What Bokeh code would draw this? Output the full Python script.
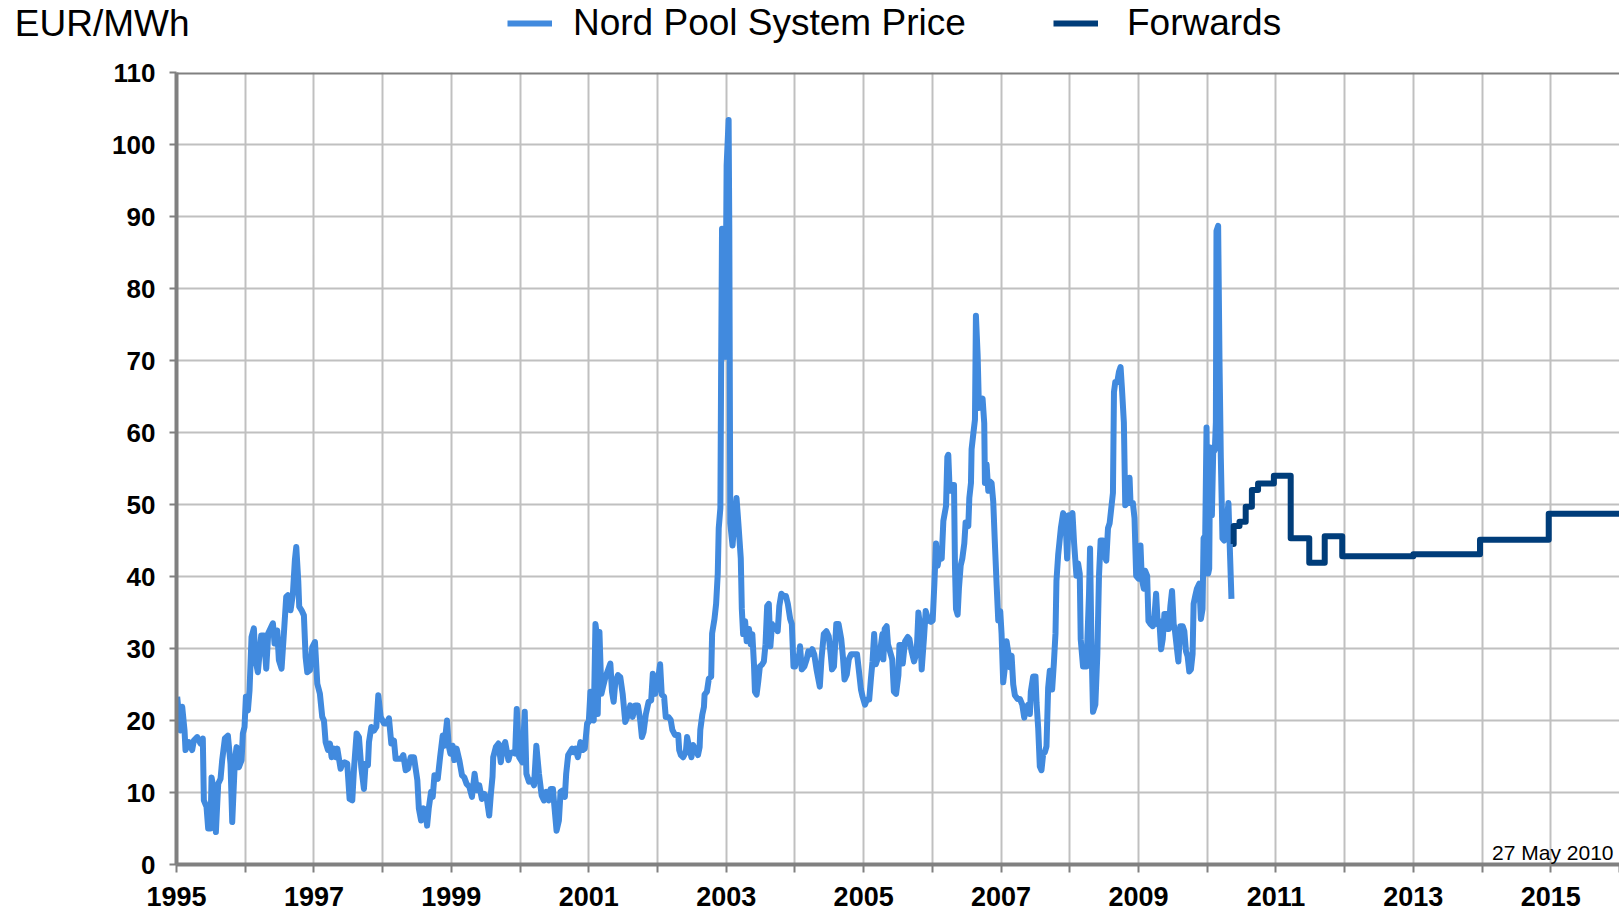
from bokeh.plotting import figure
from bokeh.models import FixedTicker, Legend, LegendItem, Label, Span, LinearAxis
from bokeh.layouts import column
from bokeh.embed import file_html
from bokeh.resources import INLINE

# ---------------- data ----------------
np_year = [
    1995.010, 1995.058, 1995.083, 1995.117, 1995.131, 1995.180, 1995.228, 1995.252, 1995.301, 1995.350,
    1995.383, 1995.398, 1995.437, 1995.461, 1995.495, 1995.510, 1995.534, 1995.573, 1995.607, 1995.641,
    1995.665, 1995.704, 1995.748, 1995.786, 1995.811, 1995.850, 1995.874, 1995.908, 1995.947, 1995.966,
    1995.990, 1996.010, 1996.039, 1996.063, 1996.092, 1996.126, 1996.150, 1996.184, 1996.233, 1996.272,
    1996.306, 1996.335, 1996.369, 1996.403, 1996.427, 1996.466, 1996.490, 1996.529, 1996.563, 1996.597,
    1996.621, 1996.660, 1996.694, 1996.723, 1996.743, 1996.772, 1996.786, 1996.820, 1996.854, 1996.879,
    1996.903, 1996.942, 1996.976, 1997.015, 1997.049, 1997.087, 1997.121, 1997.146, 1997.170, 1997.204,
    1997.233, 1997.257, 1997.291, 1997.316, 1997.340, 1997.388, 1997.413, 1997.447, 1997.485, 1997.519,
    1997.558, 1997.583, 1997.621, 1997.655, 1997.689, 1997.728, 1997.752, 1997.786, 1997.801, 1997.835,
    1997.874, 1997.908, 1997.937, 1997.971, 1998.019, 1998.058, 1998.092, 1998.126, 1998.165, 1998.189,
    1998.238, 1998.272, 1998.301, 1998.335, 1998.369, 1998.408, 1998.456, 1998.505,
    1998.527, 1998.560, 1998.594, 1998.623, 1998.647, 1998.671, 1998.705, 1998.729, 1998.754, 1998.802,
    1998.836, 1998.874, 1998.899, 1998.937, 1998.961, 1998.986, 1999.019, 1999.043, 1999.077, 1999.116,
    1999.155, 1999.188, 1999.222, 1999.261, 1999.300, 1999.338, 1999.372, 1999.406, 1999.444, 1999.478,
    1999.512, 1999.551, 1999.575, 1999.599, 1999.609, 1999.647, 1999.686, 1999.720, 1999.744, 1999.783,
    1999.831, 1999.855, 1999.889, 1999.928, 1999.952, 1999.986, 2000.034, 2000.068, 2000.092, 2000.130,
    2000.169, 2000.203, 2000.237, 2000.275, 2000.314, 2000.348, 2000.382, 2000.420, 2000.444, 2000.478,
    2000.502, 2000.531, 2000.565, 2000.589, 2000.623, 2000.652, 2000.671, 2000.700, 2000.758, 2000.783,
    2000.807, 2000.841, 2000.879, 2000.913, 2000.942, 2000.976, 2001.000, 2001.024, 2001.048, 2001.072,
    2001.097, 2001.121, 2001.130, 2001.155, 2001.184, 2001.208, 2001.242, 2001.280, 2001.314, 2001.338,
    2001.362, 2001.386, 2001.425, 2001.459, 2001.493, 2001.531, 2001.570, 2001.604, 2001.638, 2001.676,
    2001.715, 2001.749, 2001.773, 2001.797, 2001.831, 2001.870, 2001.908, 2001.932, 2001.966,
    2002.014, 2002.038, 2002.062, 2002.096, 2002.120, 2002.158, 2002.192, 2002.216, 2002.254, 2002.302,
    2002.316, 2002.340, 2002.374, 2002.412, 2002.431, 2002.460, 2002.494, 2002.517, 2002.556, 2002.589,
    2002.613, 2002.623, 2002.652, 2002.676, 2002.685, 2002.719, 2002.747, 2002.781, 2002.795, 2002.829,
    2002.853, 2002.877, 2002.891, 2002.915, 2002.925, 2002.939, 2002.958, 2002.973, 2002.987, 2003.006,
    2003.035, 2003.045, 2003.059, 2003.092, 2003.116, 2003.150, 2003.179, 2003.212, 2003.227, 2003.246,
    2003.275, 2003.298, 2003.332, 2003.356, 2003.380, 2003.404, 2003.418, 2003.442, 2003.466, 2003.490,
    2003.524, 2003.548, 2003.572, 2003.596, 2003.620, 2003.643, 2003.667, 2003.691, 2003.725, 2003.749,
    2003.773, 2003.802, 2003.835, 2003.869, 2003.897, 2003.931, 2003.955, 2003.979, 2004.003, 2004.027,
    2004.051, 2004.075, 2004.099, 2004.137, 2004.171, 2004.195, 2004.218, 2004.252, 2004.281, 2004.314,
    2004.362, 2004.386, 2004.420, 2004.458, 2004.492, 2004.520, 2004.540, 2004.568, 2004.602, 2004.635,
    2004.674, 2004.698, 2004.722, 2004.755, 2004.784, 2004.817, 2004.865, 2004.904, 2004.937, 2004.961,
    2004.985, 2005.019, 2005.047, 2005.081, 2005.105, 2005.129, 2005.153, 2005.177, 2005.201, 2005.234,
    2005.273, 2005.287, 2005.306, 2005.335, 2005.354, 2005.383, 2005.416, 2005.440,
    2005.472, 2005.506, 2005.521, 2005.554, 2005.569, 2005.603, 2005.642, 2005.666, 2005.700, 2005.734,
    2005.772, 2005.797, 2005.821, 2005.845, 2005.879, 2005.903, 2005.942, 2005.981, 2006.005, 2006.029,
    2006.053, 2006.077, 2006.102, 2006.136, 2006.160, 2006.199, 2006.218, 2006.232, 2006.252, 2006.281,
    2006.315, 2006.329, 2006.344, 2006.368, 2006.387, 2006.412, 2006.436, 2006.465, 2006.484, 2006.523,
    2006.538, 2006.562, 2006.571, 2006.596, 2006.620, 2006.634, 2006.659, 2006.678, 2006.707, 2006.731,
    2006.755, 2006.765, 2006.789, 2006.814, 2006.838, 2006.862, 2006.886, 2006.910, 2006.935, 2006.959,
    2006.988, 2007.007, 2007.031, 2007.056, 2007.080, 2007.104, 2007.128, 2007.153, 2007.177, 2007.201,
    2007.240, 2007.274, 2007.308, 2007.337, 2007.361, 2007.395, 2007.419, 2007.433, 2007.467, 2007.501,
    2007.516, 2007.540, 2007.564, 2007.588, 2007.613, 2007.637, 2007.661, 2007.685, 2007.709, 2007.743,
    2007.768, 2007.792, 2007.806, 2007.831,
    2007.870, 2007.903, 2007.937, 2007.961, 2007.986, 2008.014, 2008.039, 2008.063, 2008.097, 2008.121,
    2008.145, 2008.159, 2008.193, 2008.242, 2008.280, 2008.295, 2008.314, 2008.338, 2008.372, 2008.401,
    2008.425, 2008.449, 2008.483, 2008.507, 2008.531, 2008.556, 2008.580, 2008.604, 2008.628, 2008.643,
    2008.662, 2008.691, 2008.715, 2008.739, 2008.758, 2008.787, 2008.807, 2008.836, 2008.870, 2008.884,
    2008.918, 2008.942, 2008.966, 2009.000, 2009.029, 2009.048, 2009.077, 2009.097, 2009.126, 2009.145,
    2009.174, 2009.208, 2009.232, 2009.256, 2009.280, 2009.304, 2009.329, 2009.353, 2009.377, 2009.386,
    2009.415, 2009.440, 2009.464, 2009.488, 2009.512, 2009.531, 2009.560, 2009.580, 2009.609, 2009.643,
    2009.667, 2009.691, 2009.715, 2009.739, 2009.763, 2009.787, 2009.802, 2009.826, 2009.850, 2009.884,
    2009.908, 2009.932, 2009.947, 2009.971, 2009.990, 2010.014, 2010.029, 2010.043, 2010.068, 2010.087,
    2010.111, 2010.126, 2010.135, 2010.159, 2010.179, 2010.198, 2010.222, 2010.246, 2010.271, 2010.295,
    2010.309, 2010.329, 2010.353,
]
np_price = [
    23.3, 18.6, 21.9, 18.6, 15.9, 17.0, 15.9, 17.2, 17.7, 16.8,
    17.5, 8.9, 8.0, 5.0, 5.0, 12.1, 10.8, 4.5, 11.2, 11.9,
    14.5, 17.5, 17.9, 14.0, 5.9, 14.5, 16.3, 13.5, 14.5, 18.2,
    19.1, 23.3, 21.4, 24.2, 31.6, 32.8, 28.4, 26.7, 31.8, 31.8,
    27.2, 32.1, 32.8, 33.5, 30.7, 32.5, 28.4, 27.2, 32.1, 37.2,
    37.4, 35.3, 37.6, 42.3, 44.1, 39.4, 35.8, 35.3, 34.6, 28.8,
    26.7, 27.0, 30.2, 30.9, 25.1, 23.7, 20.5, 20.0, 17.0, 15.9,
    16.8, 14.9, 16.1, 14.9, 16.1, 13.3, 14.0, 14.2, 14.0, 9.1,
    8.9, 13.3, 18.2, 17.7, 13.5, 10.5, 14.0, 13.8, 17.0, 19.1,
    18.6, 19.1, 23.5, 20.5, 19.6, 19.6, 20.3, 16.8, 17.2, 14.7,
    14.7, 14.7, 15.2, 13.1, 13.3, 14.9, 14.9, 11.7,
    7.8, 6.1, 7.8, 7.5, 5.4, 7.8, 10.1, 9.4, 12.4, 11.9,
    14.9, 17.9, 16.5, 20.0, 16.5, 15.4, 16.5, 14.5, 16.1, 14.5,
    12.4, 12.1, 11.2, 10.8, 9.4, 12.6, 10.3, 11.0, 9.1, 9.8,
    9.4, 6.8, 9.8, 12.2, 14.9, 16.3, 16.8, 14.2, 16.1, 17.0,
    14.5, 15.4, 15.6, 15.4, 21.6, 14.9, 14.2, 21.2, 12.6, 11.5,
    11.7, 11.0, 16.5, 12.6, 9.6, 8.9, 10.1, 8.9, 10.5, 10.5,
    7.8, 4.7, 6.1, 10.1, 10.3, 9.4, 12.6, 15.2, 16.1, 15.6,
    16.1, 14.9, 17.0, 15.9, 16.1, 19.6, 19.8, 24.0, 20.5, 20.0,
    33.4, 31.6, 20.9, 32.3, 23.7, 24.7, 26.0, 27.0, 27.9, 24.0,
    22.6, 25.3, 26.3, 26.0, 23.7, 19.8, 20.7, 22.1, 20.5, 22.1,
    22.1, 20.0, 17.7, 18.4, 20.9, 22.6, 22.8, 26.5, 23.7,
    26.1, 27.8, 23.6, 23.3, 20.5, 20.5, 20.1, 18.7, 18.0, 18.0,
    15.9, 15.2, 14.9, 15.6, 17.7, 16.3, 14.9, 16.6, 15.9, 15.2,
    16.3, 18.7, 20.8, 21.9, 23.6, 24.0, 25.8, 26.1, 32.1, 34.1,
    36.2, 40.4, 46.7, 49.5, 67.0, 88.3, 88.0, 71.2, 70.5, 97.1,
    103.4, 88.0, 47.4, 44.3, 47.4, 50.9, 47.1, 42.5, 35.5, 32.0,
    33.8, 31.0, 32.7, 30.6, 32.0, 27.8, 24.0, 23.6, 25.4, 27.5,
    27.8, 28.2, 30.6, 35.9, 36.2, 30.3, 33.4, 32.7, 33.1, 32.4,
    35.9, 37.6, 37.3, 37.3, 36.2, 34.1, 33.4, 27.5, 27.5, 28.9,
    28.2, 30.3, 27.1, 27.5, 28.5, 29.6, 29.2, 29.9, 29.2, 27.1,
    24.7, 28.5, 32.0, 32.4, 31.7, 29.2, 27.1, 27.5, 33.4, 33.4,
    31.3, 28.9, 25.7, 26.4, 28.5, 29.2, 29.2, 29.2, 26.4, 24.3,
    23.3, 22.2, 22.9, 22.9, 25.7, 28.2, 32.0, 27.8, 28.5, 29.2,
    32.0, 28.5, 32.7, 33.1, 30.6, 29.6, 28.5, 24.0,
    23.7, 26.3, 30.5, 30.5, 27.9, 31.0, 31.6, 31.3, 29.5, 28.2,
    29.5, 35.0, 33.1, 27.1, 31.6, 35.2, 33.9, 33.7, 33.9, 38.9,
    44.6, 41.5, 43.0, 42.5, 47.7, 49.8, 56.6, 56.9, 51.9, 52.7,
    52.7, 41.5, 35.5, 34.7, 38.4, 41.5, 42.5, 44.6, 47.5, 47.0,
    50.9, 53.0, 57.7, 59.8, 61.8, 76.2, 70.7, 63.4, 64.4, 64.7,
    61.3, 53.0, 55.6, 51.9, 53.2, 53.0, 50.4, 44.6, 38.9, 33.9,
    35.2, 32.1, 25.3, 27.4, 31.0, 29.5, 27.4, 29.0, 25.0, 23.5,
    23.0, 23.0, 22.2, 20.4, 21.7, 22.2, 20.9, 24.0, 26.1, 26.1,
    22.5, 19.0, 13.6, 13.1, 15.4, 15.6, 16.4, 24.5, 26.9, 24.3,
    27.9, 32.1, 39.4, 43.0,
    46.7, 48.8, 48.1, 42.5, 48.5, 48.1, 48.8, 44.6, 40.1, 41.8,
    40.4, 31.3, 27.5, 27.5, 37.6, 43.9, 31.3, 21.2, 22.2, 29.2,
    40.1, 45.0, 45.0, 42.9, 42.2, 46.7, 47.4, 49.5, 51.6, 65.6,
    67.0, 67.0, 68.4, 69.1, 66.3, 61.4, 49.9, 50.2, 53.7, 50.2,
    50.2, 48.1, 40.1, 39.7, 44.3, 39.7, 38.3, 40.8, 40.1, 33.8,
    33.4, 33.1, 34.5, 37.6, 33.4, 33.8, 29.9, 31.3, 34.8, 32.7,
    34.8, 32.7, 35.9, 38.0, 33.4, 32.4, 29.9, 28.2, 33.1, 33.1,
    32.4, 29.6, 28.9, 26.8, 27.1, 29.2, 36.2, 37.3, 38.3, 39.0,
    34.1, 35.5, 45.3, 45.7, 60.7, 40.4, 41.1, 57.9, 48.5, 57.2,
    57.6, 61.4, 88.0, 88.7, 69.8, 56.5, 45.3, 45.0, 47.4, 48.8,
    50.2, 43.9, 36.9,
]

fwd_start = [2010.370, 2010.385, 2010.470, 2010.560, 2010.650, 2010.740, 2010.970, 2011.215,
             2011.485, 2011.710, 2011.965, 2013.000, 2013.970, 2014.970, 2016.000]
fwd_price = [44.5, 47.0, 47.6, 49.7, 52.0, 52.9, 54.0, 45.3,
             41.9, 45.6, 42.8, 43.1, 45.1, 48.7, 48.7]

year_ticks = list(range(1995, 2017))
year_labels = {y: (str(y) if y % 2 == 1 else "") for y in year_ticks}
price_ticks = [0, 10, 20, 30, 40, 50, 60, 70, 80, 90, 100, 110]

unit_text = "EUR/MWh"
series_names = ["Nord Pool System Price", "Forwards"]
date_note = "27 May 2010"

# ---------------- styling ----------------
W = 1619
HEAD_H = 50
MAIN_H = 916 - HEAD_H
ML, MT, MB = 176, 22, 52
FW = W - ML

FONT = "Liberation Sans"
AXIS_GREY = "#808080"
GRID_GREY = "#c0c0c0"
LIGHT = "#418ADE"
DARK = "#003D7A"
LW = 6
HEAD_FS = "37px"

# ---------------- header strip: unit caption + legend ----------------
# (its frame is aligned with the chart frame below, i.e. it starts at x = ML)
head = figure(width=W, height=HEAD_H, output_backend="svg", toolbar_location=None,
              x_range=(0, 1), y_range=(0, HEAD_H), x_axis_type=None, y_axis_type=None,
              min_border_left=0, min_border_right=0, min_border_top=0, min_border_bottom=0)
head.outline_line_color = None
head.background_fill_color = "white"
head.border_fill_color = "white"

# legend keys: same series, lying outside this strip's ranges (so only the keys show)
k1 = head.line(np_year, np_price, line_color=LIGHT, line_width=LW)
k2 = head.step(fwd_start, fwd_price, mode="after", line_color=DARK, line_width=LW)


def make_legend(label, rend, x, gap):
    return Legend(items=[LegendItem(label=label, renderers=[rend])], location=(x, 6),
                  orientation="horizontal", padding=0, margin=0, spacing=0,
                  glyph_width=45, glyph_height=10, label_standoff=gap,
                  border_line_color=None, background_fill_alpha=0,
                  label_text_font=FONT, label_text_font_size=HEAD_FS, label_text_color="black")


head.add_layout(make_legend(series_names[0], k1, 507 - ML, 21))
head.add_layout(make_legend(series_names[1], k2, 1053 - ML, 29))

# unit caption as the single tick label of a bare axis in the strip's left border
unit_pos = HEAD_H - 23
unit_axis = LinearAxis(ticker=FixedTicker(ticks=[unit_pos]),
                       major_label_overrides={unit_pos: unit_text})
unit_axis.axis_line_color = None
unit_axis.major_tick_line_color = None
unit_axis.minor_tick_line_color = None
unit_axis.major_tick_out = 0
unit_axis.major_tick_in = 0
unit_axis.major_label_standoff = -13
unit_axis.major_label_text_font = FONT
unit_axis.major_label_text_font_size = HEAD_FS
unit_axis.major_label_text_font_style = "normal"
unit_axis.major_label_text_color = "black"
head.add_layout(unit_axis, "left")

# ---------------- main chart ----------------
p = figure(width=W, height=MAIN_H, output_backend="svg", toolbar_location=None,
           x_range=(1995, 2016), y_range=(0, 110),
           min_border_left=ML, min_border_right=0, min_border_top=MT, min_border_bottom=MB)
p.outline_line_color = None
p.background_fill_color = "white"
p.border_fill_color = "white"

p.xgrid.ticker = FixedTicker(ticks=year_ticks)
p.ygrid.ticker = FixedTicker(ticks=price_ticks)
for g in (p.xgrid, p.ygrid):
    g.grid_line_color = GRID_GREY
    g.grid_line_width = 2

p.xaxis.ticker = FixedTicker(ticks=year_ticks)
p.xaxis.major_label_overrides = year_labels
p.yaxis.ticker = FixedTicker(ticks=price_ticks)
for ax in (p.xaxis, p.yaxis):
    ax.axis_line_color = AXIS_GREY
    ax.axis_line_width = 4
    ax.major_tick_line_color = AXIS_GREY
    ax.major_tick_line_width = 2
    ax.major_tick_in = 0
    ax.minor_tick_line_color = None
    ax.major_label_text_font = FONT
    ax.major_label_text_font_style = "bold"
    ax.major_label_text_color = "black"
p.xaxis.major_label_text_font_size = "27px"
p.yaxis.major_label_text_font_size = "26px"
p.xaxis.major_tick_out = 8
p.xaxis.major_label_standoff = 14
p.yaxis.major_tick_out = 7
p.yaxis.major_label_standoff = 14

p.add_layout(Span(location=110, dimension="width", line_color=AXIS_GREY, line_width=4))

r1 = p.line(np_year, np_price, line_color=LIGHT, line_width=LW, line_join="round")
r2 = p.step(fwd_start, fwd_price, mode="after", line_color=DARK, line_width=LW, line_join="round")

p.add_layout(Label(x=FW - 6, y=12, x_units="screen", y_units="screen", text=date_note,
                   text_font=FONT, text_font_size="21px", text_align="right",
                   text_baseline="alphabetic", text_color="black"))

layout = column(head, p, spacing=0)
open("out.html", "w").write(file_html(layout, INLINE))
